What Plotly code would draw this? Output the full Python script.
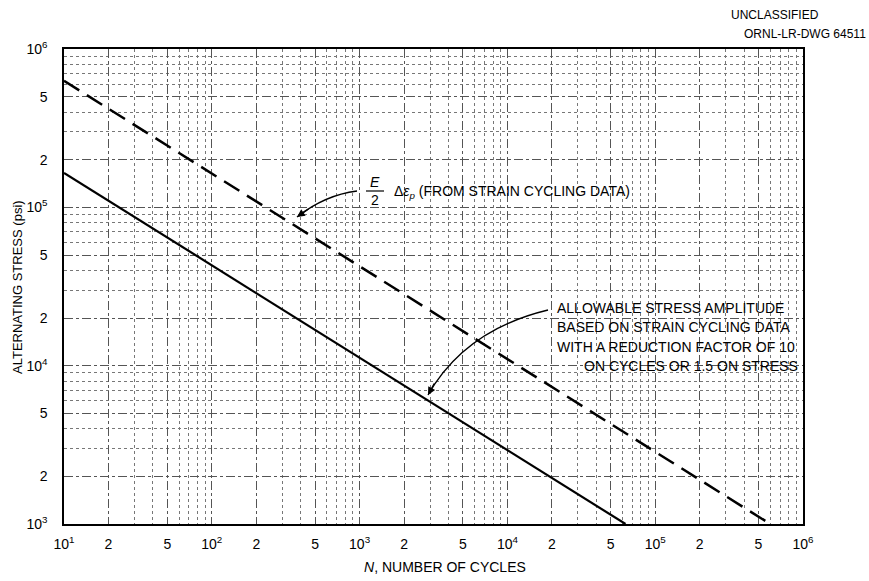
import plotly.graph_objects as go
import numpy as np

# ---- data ----
cycles_strain = [10, 6.0e5]          # E/2 * delta eps_p (from strain cycling data)
stress_strain = [6.3e5, 1.0e3]
cycles_allow = [10, 6.3e4]           # allowable stress amplitude
stress_allow = [1.65e5, 1.0e3]

x_tickvals = [10, 20, 50, 100, 200, 500, 1e3, 2e3, 5e3, 1e4, 2e4, 5e4, 1e5, 2e5, 5e5, 1e6]
x_ticktext = ["10<sup>1</sup>", "2", "5", "10<sup>2</sup>", "2", "5", "10<sup>3</sup>", "2", "5",
              "10<sup>4</sup>", "2", "5", "10<sup>5</sup>", "2", "5", "10<sup>6</sup>"]
y_tickvals = [1e3, 2e3, 5e3, 1e4, 2e4, 5e4, 1e5, 2e5, 5e5, 1e6]
y_ticktext = ["10<sup>3</sup>", "2", "5", "10<sup>4</sup>", "2", "5", "10<sup>5</sup>", "2", "5", "10<sup>6</sup>"]

x_minor = [m * 10 ** d for d in range(1, 6) for m in (3, 4, 6, 7, 8, 9)]
y_minor = [m * 10 ** d for d in range(3, 6) for m in (3, 4, 6, 7, 8, 9)]

FONT = "Liberation Sans, Arial, sans-serif"
W, H = 869, 581
L, R, T, B = 64, 803, 49, 524


def px(X):
    return (X - L) / (R - L)


def py(Y):
    return (B - Y) / (B - T)


fig = go.Figure()
fig.add_trace(go.Scatter(x=cycles_strain, y=stress_strain, mode="lines",
                         line=dict(color="black", width=2.5, dash="18px,9px"),
                         showlegend=False, hoverinfo="skip"))
fig.add_trace(go.Scatter(x=cycles_allow, y=stress_allow, mode="lines",
                         line=dict(color="black", width=2.2),
                         showlegend=False, hoverinfo="skip"))

axis_common = dict(type="log", showgrid=True, gridcolor="#555", gridwidth=1, griddash="dashdot",
                   ticks="", showline=True, linecolor="black", linewidth=1.5, mirror=True,
                   zeroline=False, tickfont=dict(family=FONT, size=14, color="black"),
                   tickmode="array")

fig.update_xaxes(**axis_common, range=[1, 6], tickvals=x_tickvals, ticktext=x_ticktext,
                 minor=dict(tickvals=x_minor, showgrid=True, gridcolor="#777", griddash="dot",
                            gridwidth=1, ticks=""),
                 ticklabelstandoff=6)
fig.update_yaxes(**axis_common, range=[3, 6], tickvals=y_tickvals, ticktext=y_ticktext,
                 minor=dict(tickvals=y_minor, showgrid=True, gridcolor="#777", griddash="dot",
                            gridwidth=1, ticks=""),
                 ticklabelstandoff=12)

FS = 14
ann = []
# header
ann.append(dict(x=px(775), y=py(15), xref="paper", yref="paper", text="UNCLASSIFIED",
                showarrow=False, font=dict(family=FONT, size=12, color="black"),
                xanchor="center", yanchor="middle"))
ann.append(dict(x=px(868), y=py(34), xref="paper", yref="paper", text="ORNL-LR-DWG 64511",
                showarrow=False, font=dict(family=FONT, size=12, color="black"),
                xanchor="right", yanchor="middle"))
# axis titles
ann.append(dict(x=px(17), y=py(287), xref="paper", yref="paper",
                text="ALTERNATING STRESS (psi)", textangle=-90, showarrow=False,
                font=dict(family=FONT, size=13, color="black"), xanchor="center", yanchor="middle"))
ann.append(dict(x=px(445), y=py(567), xref="paper", yref="paper",
                text="<i>N</i>, NUMBER OF CYCLES", showarrow=False,
                font=dict(family=FONT, size=14, color="black"), xanchor="center", yanchor="middle"))

# E/2 delta eps_p label
ann.append(dict(x=px(375), y=py(182), xref="paper", yref="paper", text="<i>E</i>", showarrow=False,
                font=dict(family=FONT, size=FS, color="black"), xanchor="center", yanchor="middle"))
ann.append(dict(x=px(375), y=py(200), xref="paper", yref="paper", text="2", showarrow=False,
                font=dict(family=FONT, size=FS, color="black"), xanchor="center", yanchor="middle"))
ann.append(dict(x=px(392), y=py(192), xref="paper", yref="paper",
                text="Δ<i>ε</i><sub><i>p</i></sub> (FROM STRAIN CYCLING DATA)", showarrow=False,
                font=dict(family=FONT, size=FS, color="black"), xanchor="left", yanchor="middle"))

# allowable stress label
lines = ["ALLOWABLE STRESS AMPLITUDE", "BASED ON STRAIN CYCLING DATA",
         "WITH A REDUCTION FACTOR OF 10", "ON CYCLES OR 1.5 ON STRESS"]
ys = [308, 327, 347, 366]
xs = [555, 555, 555, 582]
for t, yy, xx in zip(lines, ys, xs):
    ann.append(dict(x=px(xx), y=py(yy), xref="paper", yref="paper", text=t, showarrow=False,
                    font=dict(family=FONT, size=FS, color="black"), xanchor="left", yanchor="middle"))

# arrowheads
ann.append(dict(x=px(297), y=py(217), xref="paper", yref="paper", text="", showarrow=True,
                ax=13, ay=-9, arrowhead=2, arrowsize=1.2, arrowwidth=1.3, arrowcolor="black"))
ann.append(dict(x=px(428), y=py(395), xref="paper", yref="paper", text="", showarrow=True,
                ax=7, ay=-13, arrowhead=2, arrowsize=1.2, arrowwidth=1.3, arrowcolor="black"))

shapes = [
    # fraction bar
    dict(type="line", xref="paper", yref="paper", x0=px(366), x1=px(384), y0=py(191), y1=py(191),
         line=dict(color="black", width=1.2)),
    # curved leader lines
    dict(type="path", xref="paper", yref="paper",
         path=f"M {px(357)} {py(191)} Q {px(325)} {py(195)} {px(297)} {py(217)}",
         line=dict(color="black", width=1.3)),
    dict(type="path", xref="paper", yref="paper",
         path=f"M {px(548)} {py(310)} Q {px(465)} {py(330)} {px(428)} {py(395)}",
         line=dict(color="black", width=1.3)),
]

fig.update_layout(width=W, height=H, autosize=False,
                  margin=dict(l=L, r=W - R, t=T, b=H - B),
                  paper_bgcolor="white", plot_bgcolor="white",
                  annotations=ann, shapes=shapes, showlegend=False,
                  font=dict(family=FONT, color="black"))

fig.write_html("out.html")
